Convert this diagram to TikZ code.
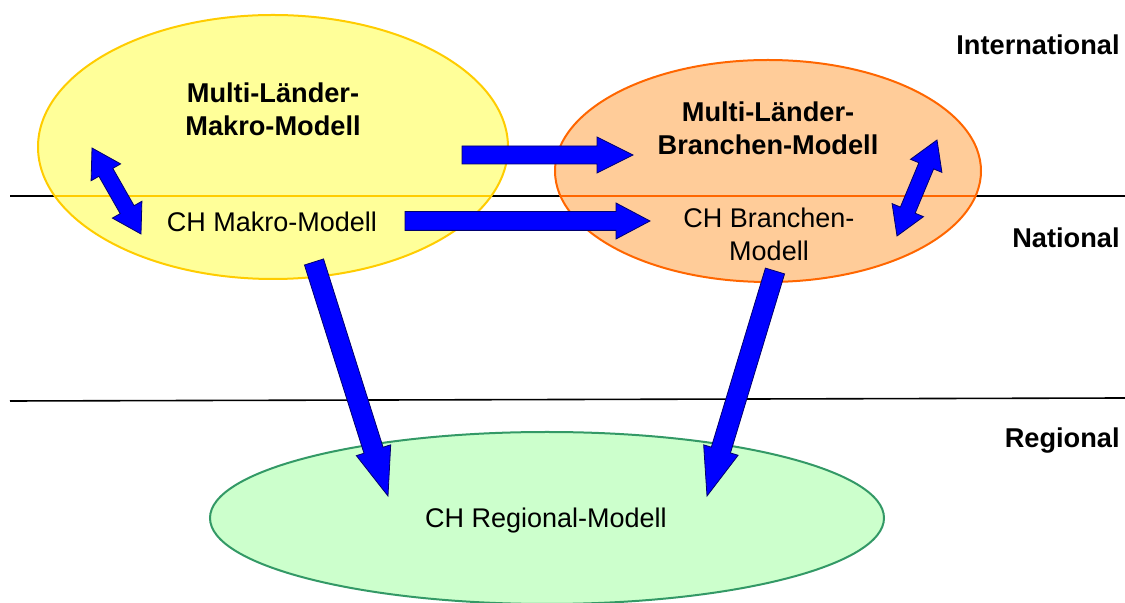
\documentclass[tikz,border=0pt]{standalone}
\usepackage{fontspec}
\setmainfont{Liberation Sans}
\usetikzlibrary{calc,shapes.geometric}

\definecolor{makrofill}{RGB}{255,255,153}
\definecolor{makroline}{RGB}{255,204,0}
\definecolor{branfill}{RGB}{255,204,153}
\definecolor{branline}{RGB}{255,102,0}
\definecolor{regfill}{RGB}{204,255,204}
\definecolor{regline}{RGB}{51,153,102}
\definecolor{arrblue}{RGB}{0,0,255}
\definecolor{arredge}{RGB}{0,0,110}

% block arrow: start, end, half shaft, half head, head length
\newcommand{\blockarrow}[5]{%
  \coordinate (#1-#2-b) at ($(#2)!#5!(#1)$);
  \draw[blockarr] ($(#1)!#3!90:(#2)$) -- ($(#1-#2-b)!#3!90:(#2)$)
    -- ($(#1-#2-b)!#4!90:(#2)$) -- (#2) -- ($(#1-#2-b)!#4!-90:(#2)$)
    -- ($(#1-#2-b)!#3!-90:(#2)$) -- ($(#1)!#3!-90:(#2)$) -- cycle;}
% same with a head at both ends
\newcommand{\dblarrow}[5]{%
  \coordinate (#1-#2-a) at ($(#1)!#5!(#2)$);
  \coordinate (#1-#2-b) at ($(#2)!#5!(#1)$);
  \draw[blockarr] (#1) -- ($(#1-#2-a)!#4!90:(#2)$) -- ($(#1-#2-a)!#3!90:(#2)$)
    -- ($(#1-#2-b)!#3!90:(#2)$) -- ($(#1-#2-b)!#4!90:(#2)$) -- (#2)
    -- ($(#1-#2-b)!#4!-90:(#2)$) -- ($(#1-#2-b)!#3!-90:(#2)$)
    -- ($(#1-#2-a)!#3!-90:(#2)$) -- ($(#1-#2-a)!#4!-90:(#2)$) -- cycle;}

\begin{document}
\begin{tikzpicture}[x=0.5pt, y=-0.5pt,
  zone/.style={ellipse, draw, line width=1pt, inner sep=0pt},
  txt/.style={align=center, font=\fontsize{13.5}{16.5}\selectfont},
  btxt/.style={align=center, font=\fontsize{13.6}{16.5}\selectfont\bfseries},
  blockarr/.style={fill=arrblue, draw=arredge, line width=0.4pt, line join=miter}]
\useasboundingbox (0,0) rectangle (1125,603);

% level separators
\draw[line width=0.8pt] (10,196) -- (1125,196);
\draw[line width=0.8pt] (10,401) -- (1125,398);

% models
\node[zone, fill=makrofill, draw=makroline, minimum width=235pt, minimum height=132pt] (makro) at (273,147) {};
\node[zone, fill=branfill, draw=branline, minimum width=213pt, minimum height=111pt] (branchen) at (768,171) {};
\node[zone, fill=regfill, draw=regline, minimum width=337pt, minimum height=86pt] (regional) at (547,518) {};
\begin{scope}
  \clip (273,147) ellipse [x radius=235, y radius=132];
  \draw[makroline, line width=1pt] (10,196) -- (1125,196);
\end{scope}
\begin{scope}
  \clip (768,171) ellipse [x radius=213, y radius=111];
  \draw[branline, line width=1pt] (10,196) -- (1125,196);
\end{scope}

\node[btxt] (mlmakro) at (273,109) {Multi-Länder-\\Makro-Modell};
\node[txt] (chmakro) at (272,222) {CH Makro-Modell};
\node[btxt] (mlbranchen) at (768,128) {Multi-Länder-\\Branchen-Modell};
\node[txt] (chbranchen) at (769,234) {CH Branchen-\\Modell};
\node[txt] (chregional) at (546,521) {CH Regional-Modell};

% levels
\node[btxt, anchor=east, inner sep=0pt] (intl) at (1120,45) {International};
\node[btxt, anchor=east, inner sep=0pt] (natl) at (1120,238) {National};
\node[btxt, anchor=east, inner sep=0pt] (regl) at (1120,441) {Regional};

% arrow ends
\coordinate (mk1) at (462,155);
\coordinate (br1) at (633,155);
\coordinate (mk2) at (405,221);
\coordinate (br2) at (650,221);
\coordinate (mkup) at (92,148);
\coordinate (mkdn) at (141,234);
\coordinate (brup) at (937,140);
\coordinate (brdn) at (897,236);
\coordinate (mkout) at (314,262);
\coordinate (rg1) at (388,496);
\coordinate (brout) at (775,271);
\coordinate (rg2) at (707,496);

\blockarrow{mk1}{br1}{4.5pt}{9pt}{18pt}
\blockarrow{mk2}{br2}{4.7pt}{9pt}{17pt}
\dblarrow{mkup}{mkdn}{4pt}{8.5pt}{14pt}
\dblarrow{brup}{brdn}{4pt}{8.5pt}{14pt}
\blockarrow{mkout}{rg1}{5pt}{9pt}{24pt}
\blockarrow{brout}{rg2}{5pt}{9pt}{24pt}
\end{tikzpicture}
\end{document}
